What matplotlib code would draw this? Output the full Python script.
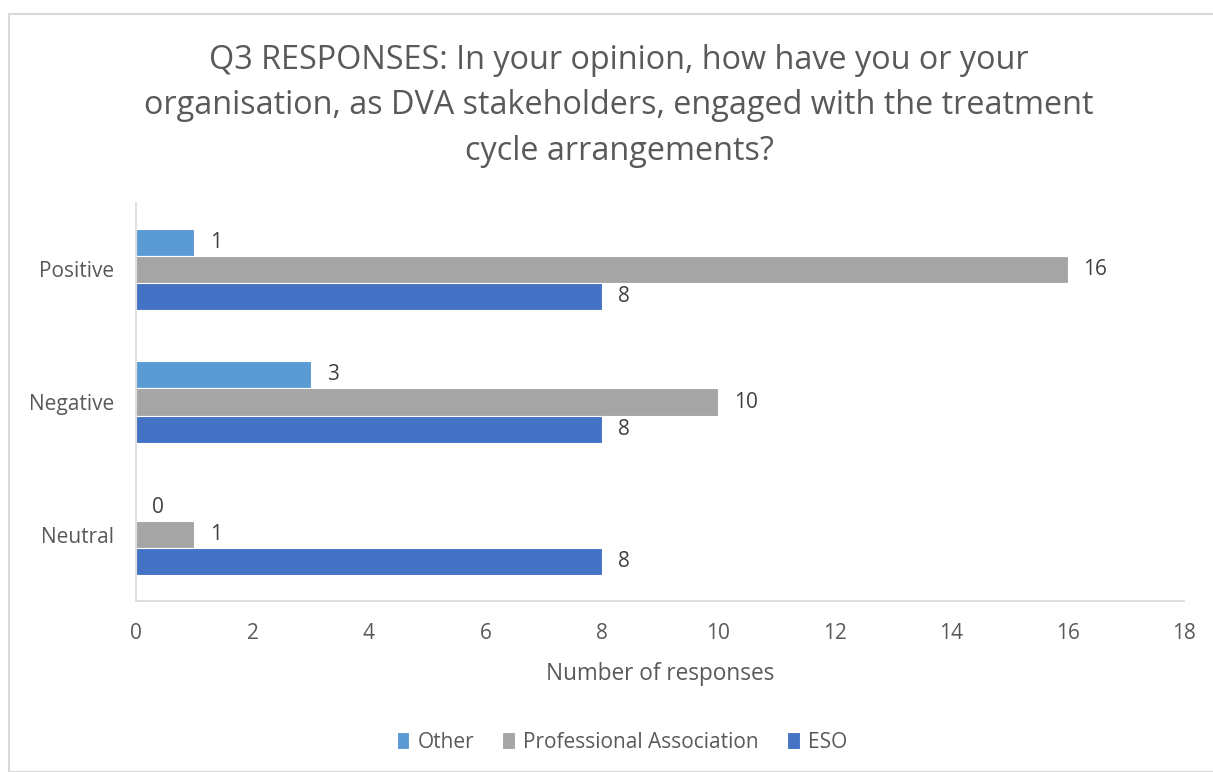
import matplotlib
matplotlib.use("Agg")
import numpy as np
import matplotlib.pyplot as plt
from matplotlib.patches import Rectangle

categories = ["Positive", "Negative", "Neutral"]
series_names = ["Other", "Professional Association", "ESO"]
other_vals = [1, 3, 0]
prof_vals = [16, 10, 1]
eso_vals = [8, 8, 8]

colors = ["#5B9BD5", "#A5A5A5", "#4472C4"]
text_gray = "#595959"

plt.rcParams["font.family"] = ["Open Sans", "DejaVu Sans"]

W, H = 1213, 772
fig = plt.figure(figsize=(W / 100, H / 100), dpi=100)

# light chart-area frame
fig.patches.append(Rectangle((9 / W, 0), 1.2, 1 - 14 / H, transform=fig.transFigure,
                             fill=False, edgecolor="#D9D9D9", linewidth=1.5))

# plot area in pixels: left 136, right 1184, top 203, bottom 601
ax = fig.add_axes([136 / W, 1 - 601 / H, (1184 - 136) / W, (601 - 203) / H])

n = len(categories)
y = np.arange(n)[::-1].astype(float)   # Positive on top
bh = 0.205
offsets = [-bh, 0.0, bh]                # Other above, ESO below

for vals, name, col, off in zip([other_vals, prof_vals, eso_vals], series_names, colors, offsets):
    bars = ax.barh(y - off, vals, height=bh, color=col, edgecolor="white",
                   linewidth=0.8, label=name)
    for b, v in zip(bars, vals):
        ax.annotate(str(v), (b.get_width(), b.get_y() + b.get_height() / 2),
                    xytext=(11.5, 0), textcoords="offset points",
                    ha="left", va="center", fontsize=15, color="#404040")

ax.set_xlim(0, 18)
ax.set_ylim(-0.5, n - 0.5)
ax.set_xticks(np.arange(0, 19, 2))
ax.set_yticks(y)
ax.set_yticklabels(categories)
ax.tick_params(axis="both", length=0, labelsize=15, colors=text_gray)
ax.tick_params(axis="x", pad=16)
ax.tick_params(axis="y", pad=16)

for s in ["top", "right"]:
    ax.spines[s].set_visible(False)
for s in ["left", "bottom"]:
    ax.spines[s].set_color("#D9D9D9")
    ax.spines[s].set_linewidth(1.2)

ax.set_xlabel("Number of responses", fontsize=16.3, color=text_gray, labelpad=13)

fig.text(619 / W, 1 - 106 / H,
         "Q3 RESPONSES: In your opinion, how have you or your\n"
         "organisation, as DVA stakeholders, engaged with the treatment\n"
         "cycle arrangements?",
         ha="center", va="center", fontsize=23.3, color=text_gray, linespacing=1.5)

leg = fig.legend(loc="center", bbox_to_anchor=(622 / W, 1 - 742 / H), ncol=3, frameon=False,
                 fontsize=15, handlelength=0.6, handleheight=0.85, handletextpad=0.4,
                 columnspacing=1.35, labelcolor=text_gray)

fig.savefig("out.png", dpi=100, facecolor="white")
